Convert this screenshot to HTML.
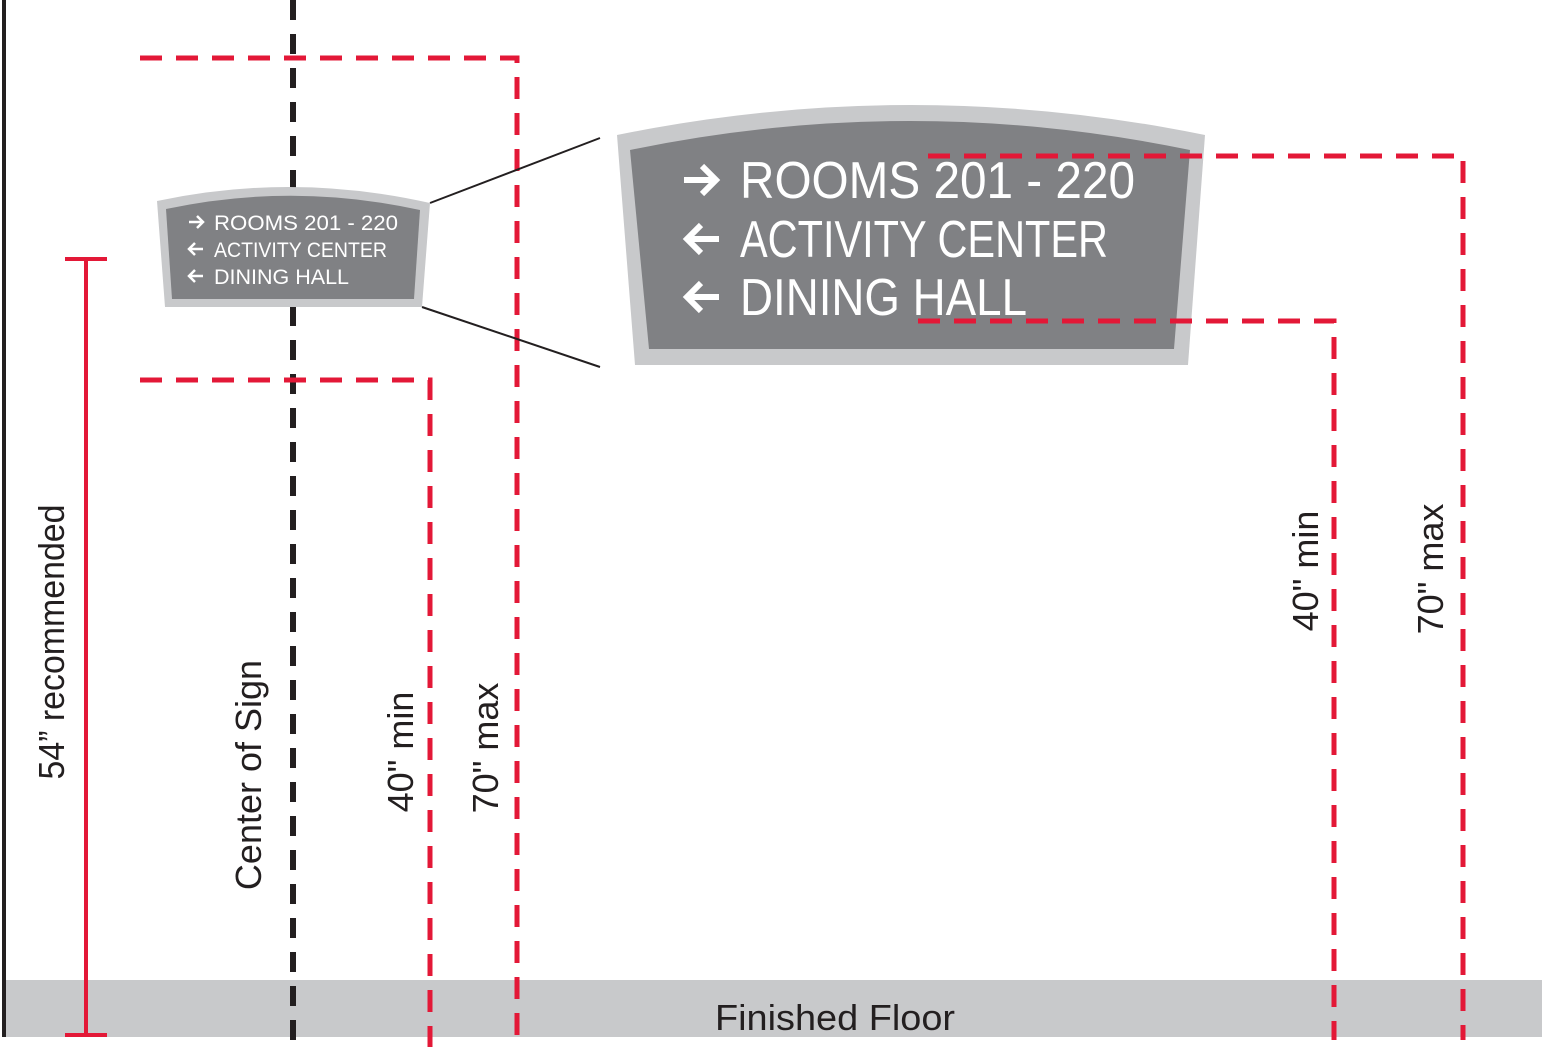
<!DOCTYPE html>
<html><head><meta charset="utf-8"><style>html,body{margin:0;padding:0;background:#fff}svg{display:block}</style></head>
<body>
<svg width="1542" height="1047" viewBox="0 0 1542 1047" xmlns="http://www.w3.org/2000/svg" font-family="Liberation Sans, sans-serif">
<rect x="4" y="980" width="1538" height="57" fill="#c8c9cb"/>
<text x="835" y="1030" font-size="36" text-anchor="middle" fill="#231f20" textLength="240" lengthAdjust="spacingAndGlyphs">Finished Floor</text>
<line x1="4" y1="0" x2="4" y2="1037" stroke="#231f20" stroke-width="4"/>
<line x1="293" y1="0" x2="293" y2="1047" stroke="#231f20" stroke-width="6" stroke-dasharray="20,14"/>
<g stroke="#e31837" stroke-width="5" fill="none" stroke-dasharray="22,14">
<polyline points="140,58 517,58 517,1047"/>
<polyline points="140,380 430,380 430,1047"/>
</g>
<g stroke="#e31837" stroke-width="4" fill="none">
<line x1="86" y1="259" x2="86" y2="1035"/>
<line x1="65" y1="259" x2="107" y2="259"/>
<line x1="65" y1="1035" x2="107" y2="1035"/>
</g>
<line x1="430" y1="203" x2="600" y2="138" stroke="#231f20" stroke-width="2"/>
<line x1="422" y1="307" x2="600" y2="367" stroke="#231f20" stroke-width="2"/>
<path d="M157,201 Q293,172 430,203 L422,307 L165,307 Z" fill="#c8c9cb"/>
<path d="M166,209 Q293,182 420,210 L414,299 L172,299 Z" fill="#808184"/>
<g fill="#fff" font-size="21">
<text x="214" y="230" textLength="184" lengthAdjust="spacingAndGlyphs">ROOMS 201 - 220</text>
<text x="214" y="257" textLength="173" lengthAdjust="spacingAndGlyphs">ACTIVITY CENTER</text>
<text x="214" y="284" textLength="135" lengthAdjust="spacingAndGlyphs">DINING HALL</text>
</g>
<g stroke="#fff" stroke-width="2.5" fill="none">
<path d="M189,222 H203 M197,216 L203,222 L197,228"/>
<path d="M203,249 H189 M195,243 L189,249 L195,255"/>
<path d="M203,276 H189 M195,270 L189,276 L195,282"/>
</g>
<path d="M617,135 Q911,75 1205,135 L1188,365 L635,365 Z" fill="#c8c9cb"/>
<path d="M630,150 Q910,92 1190,150 L1174,349 L649,349 Z" fill="#808184"/>
<g fill="#fff" font-size="52">
<text x="740" y="198" textLength="395" lengthAdjust="spacingAndGlyphs">ROOMS 201 - 220</text>
<text x="740" y="257" textLength="368" lengthAdjust="spacingAndGlyphs">ACTIVITY CENTER</text>
<text x="740" y="315" textLength="287" lengthAdjust="spacingAndGlyphs">DINING HALL</text>
</g>
<g stroke="#fff" stroke-width="6" fill="none">
<path d="M684,180 H714 M702,166 L716,180 L702,194"/>
<path d="M719,239 H689 M701,225 L687,239 L701,253"/>
<path d="M719,297 H689 M701,283 L687,297 L701,311"/>
</g>
<g stroke="#e31837" stroke-width="5" fill="none" stroke-dasharray="22,14">
<polyline points="928,156 1463,156 1463,1040"/>
<polyline points="918,321 1334,321 1334,1040"/>
</g>
<g font-size="36" fill="#231f20">
<text transform="translate(64,642) rotate(-90)" text-anchor="middle" textLength="275" lengthAdjust="spacingAndGlyphs">54” recommended</text>
<text transform="translate(261,775) rotate(-90)" text-anchor="middle">Center of Sign</text>
<text transform="translate(413,752) rotate(-90)" text-anchor="middle">40" min</text>
<text transform="translate(498,748) rotate(-90)" text-anchor="middle">70" max</text>
<text transform="translate(1318,571) rotate(-90)" text-anchor="middle">40" min</text>
<text transform="translate(1443,569) rotate(-90)" text-anchor="middle">70" max</text>
</g>
</svg>
</body></html>
